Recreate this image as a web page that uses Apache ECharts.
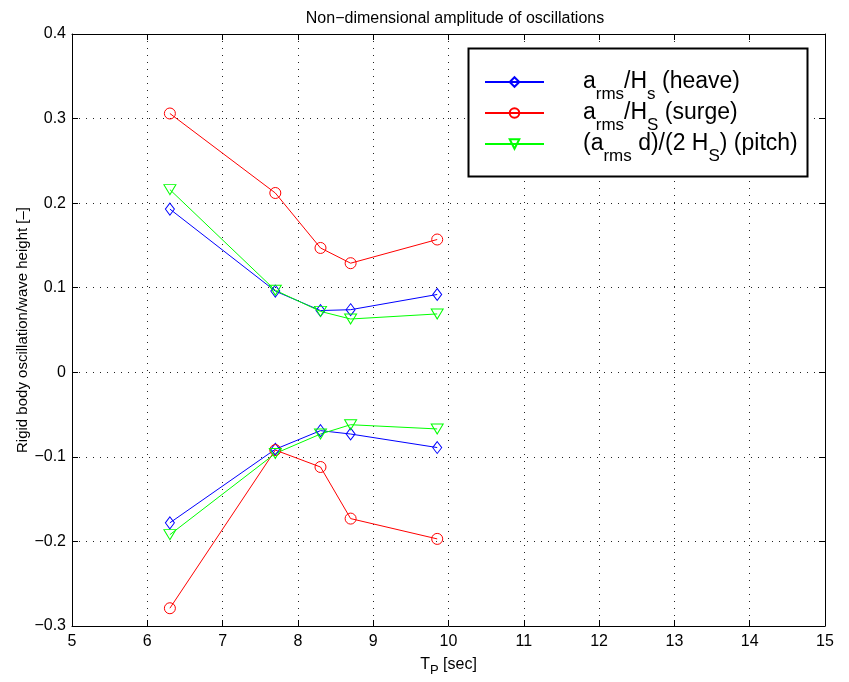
<!DOCTYPE html>
<html>
<head>
<meta charset="utf-8">
<script src="https://cdn.jsdelivr.net/npm/echarts@6/dist/echarts.min.js"></script>
<style>
html,body{margin:0;padding:0;background:#fff;}
#chart{width:849px;height:682px;}
</style>
</head>
<body>
<div id="chart"></div>
<script>
// Wave peak period T_P [sec]
var periods = [6.3, 7.7, 8.3, 8.7, 9.85];
// heave a_rms/H_s (upper and lower branch)
var heaveUpper = [0.193, 0.096, 0.073, 0.074, 0.092];
var heaveLower = [-0.178, -0.091, -0.069, -0.073, -0.089];
// surge a_rms/H_S
var surgeUpper = [0.306, 0.212, 0.147, 0.129, 0.157];
var surgeLower = [-0.279, -0.092, -0.112, -0.173, -0.197];
// pitch (a_rms d)/(2 H_S)
var pitchUpper = [0.216, 0.097, 0.072, 0.063, 0.069];
var pitchLower = [-0.192, -0.096, -0.073, -0.062, -0.067];

var seriesNames = ['heave', 'surge', 'pitch'];
var legendLabels = {
  heave: '{n|a}{s|rms}{n|/H}{s|s}{n| (heave)}',
  surge: '{n|a}{s|rms}{n|/H}{s|S}{n| (surge)}',
  pitch: '{n|(a}{s|rms}{n| d)/(2 H}{s|S}{n|) (pitch)}'
};

function pairs(xs, ys) {
  return xs.map(function (x, i) { return [x, ys[i]]; });
}

var FONT = '"Liberation Sans", Arial, Helvetica, sans-serif';

function mkSeries(name, color, symbol, size, rotate, ys) {
  return {
    type: 'line',
    name: name,
    data: pairs(periods, ys),
    symbol: symbol,
    symbolSize: size,
    symbolRotate: rotate,
    showSymbol: true,
    color: color,
    lineStyle: { color: color, width: 1 },
    itemStyle: { color: 'rgba(255,255,255,0)', borderColor: color, borderWidth: 1 },
    emphasis: { disabled: true },
    animation: false,
    z: 3
  };
}

var chart = echarts.init(document.getElementById('chart'), null, { renderer: 'canvas' });

var gridL = 72, gridR = 24, gridT = 34, gridB = 54;

var option = {
  backgroundColor: '#fff',
  animation: false,
  textStyle: { fontFamily: FONT },
  title: {
    text: 'Non\u2212dimensional amplitude of oscillations',
    left: 450, top: 6, textAlign: 'center',
    textStyle: { fontFamily: FONT, fontSize: 16, fontWeight: 'normal', color: '#000' }
  },
  grid: { left: gridL, right: gridR, top: gridT, bottom: gridB, containLabel: false },
  xAxis: [{
    type: 'value', min: 5, max: 15, interval: 1,
    name: '{n|T}{s|P}{n| [sec]}',
    nameLocation: 'middle', nameGap: 26, nameMoveOverlap: false,
    nameTextStyle: {
      rich: {
        n: { fontFamily: FONT, fontSize: 16, color: '#000' },
        s: { fontFamily: FONT, fontSize: 13, color: '#000', padding: [12, 0, 0, 0] }
      }
    },
    axisLine: { show: true, onZero: false, lineStyle: { color: '#000', width: 1 } },
    axisTick: { show: true, inside: true, length: 6, lineStyle: { color: '#000' } },
    axisLabel: { color: '#000', fontSize: 16, fontFamily: FONT, margin: 8 },
    splitLine: { show: true, lineStyle: { color: '#222', width: 1, type: [1, 6] } }
  }, {
    type: 'value', min: 5, max: 15, interval: 1, position: 'top',
    axisLine: { show: true, onZero: false, lineStyle: { color: '#000', width: 1 } },
    axisTick: { show: true, inside: true, length: 6, lineStyle: { color: '#000' } },
    axisLabel: { show: false },
    splitLine: { show: false }
  }],
  yAxis: [{
    type: 'value', min: -0.3, max: 0.4, interval: 0.1,
    name: 'Rigid body oscillation/wave height [\u2013]',
    nameLocation: 'middle', nameGap: 42, nameRotate: 90, nameMoveOverlap: false,
    nameTextStyle: { fontFamily: FONT, fontSize: 15, color: '#000' },
    axisLine: { show: true, onZero: false, lineStyle: { color: '#000', width: 1 } },
    axisTick: { show: true, inside: true, length: 6, lineStyle: { color: '#000' } },
    axisLabel: {
      color: '#000', fontSize: 16, fontFamily: FONT, margin: 6,
      formatter: function (v) {
        var r = Math.round(v * 10) / 10;
        return String(r).replace('-', '\u2212');
      }
    },
    splitLine: { show: true, lineStyle: { color: '#222', width: 1, type: [1, 6] } }
  }, {
    type: 'value', min: -0.3, max: 0.4, interval: 0.1, position: 'right',
    axisLine: { show: true, onZero: false, lineStyle: { color: '#000', width: 1 } },
    axisTick: { show: true, inside: true, length: 6, lineStyle: { color: '#000' } },
    axisLabel: { show: false },
    splitLine: { show: false }
  }],
  legend: {
    data: seriesNames,
    orient: 'vertical',
    left: 484, top: 61,
    itemWidth: 59, itemHeight: 12, itemGap: -11,
    padding: 0,
    formatter: function (name) { return legendLabels[name]; },
    textStyle: {
      rich: {
        n: { fontFamily: FONT, fontSize: 23, lineHeight: 23, color: '#000' },
        s: { fontFamily: FONT, fontSize: 17, lineHeight: 17, color: '#000', padding: [25, 0, 0, 0] }
      },
      padding: [0, 0, 0, 34]
    },
    selectedMode: false
  },
  graphic: [{
    type: 'rect',
    shape: { x: 468.5, y: 48.5, width: 339, height: 128 },
    style: { fill: '#fff', stroke: '#000', lineWidth: 2 },
    z: 4, zlevel: 0
  }],
  series: [
    mkSeries('heave', '#0000ff', 'diamond', [9, 12], 0, heaveUpper),
    mkSeries('heave', '#0000ff', 'diamond', [9, 12], 0, heaveLower),
    mkSeries('surge', '#ff0000', 'circle', 11, 0, surgeUpper),
    mkSeries('surge', '#ff0000', 'circle', 11, 0, surgeLower),
    mkSeries('pitch', '#00ff00', 'triangle', [12, 10], 180, pitchUpper),
    mkSeries('pitch', '#00ff00', 'triangle', [12, 10], 180, pitchLower)
  ]
};
option.legend.z = 10;
chart.setOption(option);
</script>
</body>
</html>
